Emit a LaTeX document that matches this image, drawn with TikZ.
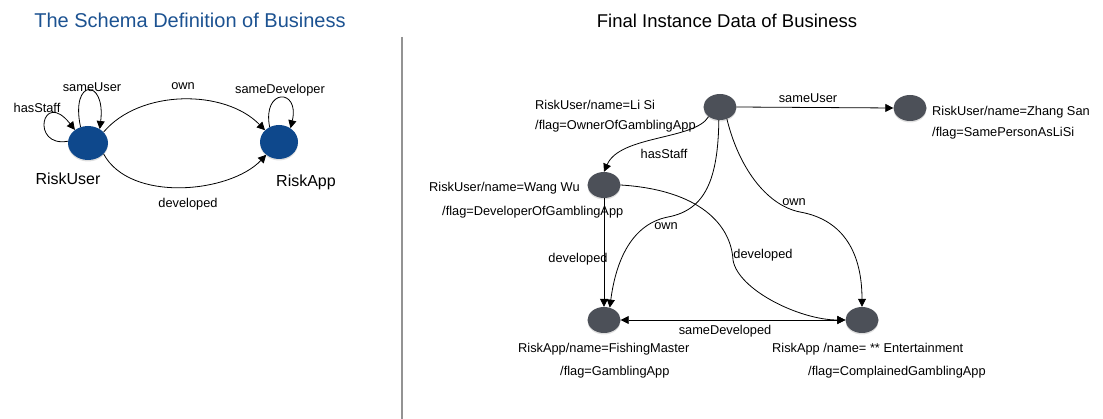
\documentclass[tikz,border=0pt]{standalone}
\usepackage{fontspec}
\setmainfont{Liberation Sans}
\usetikzlibrary{shapes.geometric,arrows.meta,shadows}

\definecolor{schemablue}{RGB}{14,72,140}
\definecolor{titleblue}{RGB}{28,82,145}
\definecolor{datagray}{RGB}{76,80,88}

\tikzset{
  schemanode/.style={ellipse, fill=schemablue, minimum width=40pt, minimum height=34pt, inner sep=0pt,
    drop shadow={opacity=0.25, shadow xshift=0pt, shadow yshift=-1.5pt}},
  datanode/.style={ellipse, fill=datagray, minimum width=33pt, minimum height=26pt, inner sep=0pt,
    drop shadow={opacity=0.25, shadow xshift=0pt, shadow yshift=-1.5pt}},
  rel/.style={line width=0.8pt, -{Triangle[length=8pt,width=8pt]}},
  lbl/.style={font=\fontsize{12.8}{15}\selectfont, inner sep=0pt},
  txt/.style={lbl, anchor=west}
}

\begin{document}
\begin{tikzpicture}[x=1pt,y=-1pt]
\useasboundingbox (0,0) rectangle (1103,419);

% Titles and divider
\node[font=\fontsize{20}{24}\selectfont, text=titleblue, inner sep=0pt] (schematitle) at (190,20) {The Schema Definition of Business};
\node[font=\fontsize{18.5}{22}\selectfont, inner sep=0pt] (datatitle) at (727,21) {Final Instance Data of Business};
\draw[gray!85, line width=2.5pt] (402,37) -- (402,419);

% Schema nodes
\node[schemanode] (riskuser) at (88,143) {};
\node[schemanode, minimum width=38pt] (riskapp) at (279,142) {};
\node[font=\fontsize{16}{19}\selectfont, inner sep=0pt] (riskuserlbl) at (68,179) {RiskUser};
\node[font=\fontsize{16}{19}\selectfont, inner sep=0pt] (riskapplbl) at (306,182) {RiskApp};

% Schema relations
\draw[rel] (riskuser.175) .. controls (30,148) and (42,88) .. (riskuser.135);
\draw[rel] (riskuser.115) .. controls (70,78) and (106,78) .. (riskuser.50);
\draw[rel] (riskuser.35) .. controls (140,89) and (225,89) .. (riskapp.140);
\draw[rel] (riskapp.122) .. controls (262,88) and (300,88) .. (riskapp.50);
\draw[rel] (riskuser.-35) .. controls (130,203) and (230,193) .. (riskapp.-135);

\node[lbl] (hasstafflbl) at (37,108) {hasStaff};
\node[lbl] (sameuserlbl) at (92,87) {sameUser};
\node[lbl] (ownlbl) at (183,86) {own};
\node[lbl] (samedevlbl) at (280,90) {sameDeveloper};
\node[lbl] (developedlbl) at (188,204) {developed};

% Instance nodes
\node[datanode] (lisi) at (720,107) {};
\node[datanode] (zhangsan) at (910,108) {};
\node[datanode] (wangwu) at (604,185) {};
\node[datanode] (fishing) at (604,320) {};
\node[datanode] (entertain) at (862,320) {};

% Instance texts
\node[txt] (lisi1) at (535,105) {RiskUser/name=Li Si};
\node[txt] (lisi2) at (535,126) {/flag=OwnerOfGamblingApp};
\node[txt] (zhangsan1) at (932,112) {RiskUser/name=Zhang San};
\node[txt] (zhangsan2) at (932,133) {/flag=SamePersonAsLiSi};
\node[txt] (wangwu1) at (429,188) {RiskUser/name=Wang Wu};
\node[txt] (wangwu2) at (442,212) {/flag=DeveloperOfGamblingApp};
\node[txt] (fishing1) at (518,349) {RiskApp/name=FishingMaster};
\node[txt] (fishing2) at (560,372) {/flag=GamblingApp};
\node[txt] (entertain1) at (772,349) {RiskApp /name= ** Entertainment};
\node[txt] (entertain2) at (808,372) {/flag=ComplainedGamblingApp};

% Instance relations
\draw[rel] (lisi.east) -- (zhangsan.west);
\draw[rel] (lisi.-140) .. controls (695,140) and (620,135) .. (wangwu.north);
\draw[rel] (lisi.-95) .. controls (718,180) and (705,210) .. (668,217) .. controls (632,224) and (616,260) .. (fishing.65);
\draw[rel] (lisi.-60) .. controls (738,165) and (765,205) .. (800,212) .. controls (845,220) and (862,255) .. (entertain.north);
\draw[rel] (wangwu.south) -- (fishing.north);
\draw[rel] (wangwu.east) .. controls (700,190) and (731,225) .. (733,260) .. controls (738,290) and (800,320) .. (entertain.west);
\draw[rel, {Triangle[length=8pt,width=8pt]}-{Triangle[length=8pt,width=8pt]}] (fishing.east) -- (entertain.west);

\node[lbl] (sameuser2lbl) at (808,98) {sameUser};
\node[lbl] (hasstaff2lbl) at (664,154) {hasStaff};
\node[lbl] (own2lbl) at (666,226) {own};
\node[lbl] (own3lbl) at (794,202) {own};
\node[lbl] (developed2lbl) at (578,259) {developed};
\node[lbl] (developed3lbl) at (763,255) {developed};
\node[lbl] (samedevelopedlbl) at (725,331) {sameDeveloped};
\end{tikzpicture}
\end{document}
